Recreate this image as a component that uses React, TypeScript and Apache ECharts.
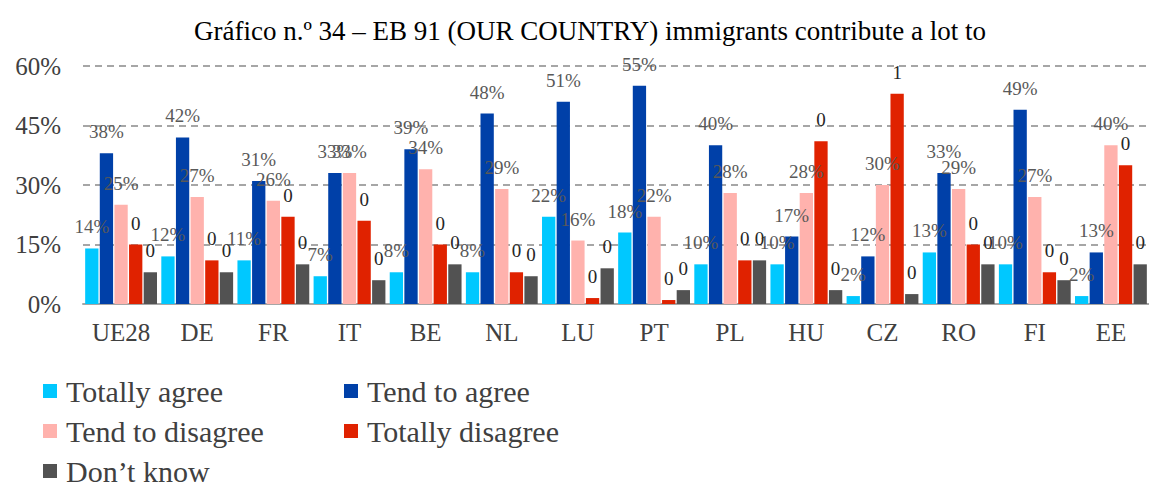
import React, { useEffect, useRef } from "react";
import * as echarts from "echarts";

const categories = ["UE28", "DE", "FR", "IT", "BE", "NL", "LU", "PT", "PL", "HU", "CZ", "RO", "FI", "EE"];
const seriesNames = ["Totally agree", "Tend to agree", "Tend to disagree", "Totally disagree", "Don’t know"];
const totallyAgree = [14, 12, 11, 7, 8, 8, 22, 18, 10, 10, 2, 13, 10, 2];
const tendToAgree = [38, 42, 31, 33, 39, 48, 51, 55, 40, 17, 12, 33, 49, 13];
const tendToDisagree = [25, 27, 26, 33, 34, 29, 16, 22, 28, 28, 30, 29, 27, 40];
const totallyDisagree = [15, 11, 22, 21, 15, 8, 1.5, 1, 11, 41, 53, 15, 8, 35];
const dontKnow = [8, 8, 10, 6, 10, 7, 9, 3.5, 11, 3.5, 2.5, 10, 6, 10];
const yTicks = [0, 15, 30, 45, 60];
const colors = ["#00C8FF", "#0040A8", "#FFB2AD", "#E02200", "#525252"];

const FONT = "Liberation Serif";

export default function App() {
  const ref = useRef<HTMLDivElement>(null);
  useEffect(() => {
    document.body.style.margin = "0";
    const chart = echarts.init(ref.current!, undefined, { renderer: "svg" });
    const values = [totallyAgree, tendToAgree, tendToDisagree, totallyDisagree, dontKnow];
    const series = values.map((data, i) => ({
      name: seriesNames[i],
      type: "bar",
      data,
      barWidth: 13.3,
      barGap: "10%",
      itemStyle: { color: colors[i] },
      label: {
        show: true,
        position: "top",
        distance: 12,
        fontFamily: FONT,
        fontSize: 19,
        color: i < 3 ? "#595959" : "#262626",
        formatter: (p: any) => (i < 3 ? `${p.value}%` : String(Math.round(p.value / 100))),
      },
    }));
    const legendText = { fontFamily: FONT, fontSize: 30, color: "#404040", lineHeight: 30, padding: [0, 0, 0, 4] };
    chart.setOption({
      animation: false,
      textStyle: { fontFamily: FONT },
      title: {
        text: "Gráfico n.º 34 – EB 91 (OUR COUNTRY) immigrants contribute a lot to",
        left: 590,
        textAlign: "center",
        top: 17,
        padding: 0,
        textStyle: { fontFamily: FONT, fontSize: 27, fontWeight: "normal", color: "#000000" },
      },
      legend: [
        {
          data: [seriesNames[0], seriesNames[2], seriesNames[4]],
          orient: "vertical",
          left: 43,
          top: 376,
          height: 140,
          itemWidth: 14,
          itemHeight: 14,
          itemGap: 10,
          icon: "rect",
          padding: 0,
          textStyle: legendText,
        },
        {
          data: [seriesNames[1], seriesNames[3]],
          orient: "vertical",
          left: 344,
          top: 376,
          height: 140,
          itemWidth: 14,
          itemHeight: 14,
          itemGap: 10,
          icon: "rect",
          padding: 0,
          textStyle: legendText,
        },
      ],
      grid: { left: 83, right: -7, top: 66, bottom: 180, containLabel: false },
      xAxis: {
        type: "category",
        data: categories,
        axisLine: { show: true, lineStyle: { color: "#A6A6A6", width: 2 } },
        axisTick: { show: false },
        axisLabel: { fontFamily: FONT, fontSize: 25, color: "#404040", margin: 16 },
      },
      yAxis: {
        type: "value",
        min: yTicks[0],
        max: yTicks[yTicks.length - 1],
        interval: 15,
        axisLine: { show: false },
        axisTick: { show: false },
        axisLabel: { fontFamily: FONT, fontSize: 25, color: "#404040", margin: 22, formatter: "{value}%" },
        splitLine: { show: true, lineStyle: { color: "#A6A6A6", width: 2, type: [7, 5] } },
      },
      series,
    });
    return () => chart.dispose();
  }, []);
  return <div ref={ref} style={{ width: 1149, height: 484 }} />;
}
